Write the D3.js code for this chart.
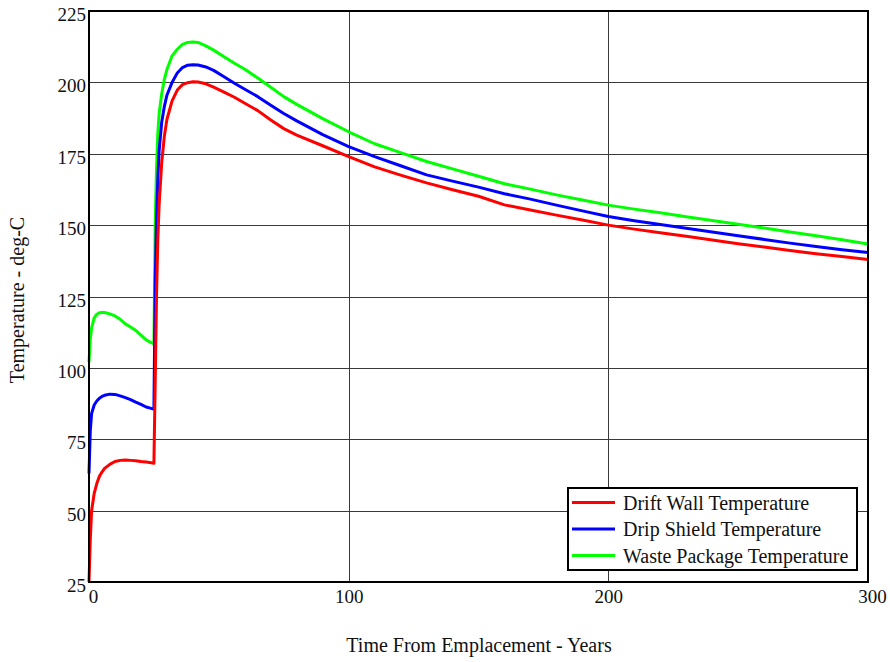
<!DOCTYPE html>
<html>
<head>
<meta charset="utf-8">
<script src="https://cdn.jsdelivr.net/npm/d3@7"></script>
<style>
  html, body { margin: 0; padding: 0; background: #fff; }
  svg { display: block; }
  text { font-family: "Liberation Serif", "Times New Roman", serif; fill: #111; }
</style>
</head>
<body>
<svg id="chart" width="890" height="662"></svg>
<script>
// Time after emplacement (years)
const years = [0, 0.5, 1, 2, 3, 4, 5, 6, 8, 10, 12, 14, 16, 18, 20, 22, 24, 25,
  25.5, 26, 26.5, 27, 28, 29, 30, 32, 34, 36, 38, 40, 42, 45, 48, 52, 56, 60, 65,
  70, 75, 80, 90, 100, 110, 120, 130, 140, 150, 160, 170, 180, 190, 200, 210,
  220, 230, 240, 250, 260, 270, 280, 290, 300];

// Drift wall temperature (deg-C)
const driftWall = [25, 40, 50, 56, 59.5, 62, 63.5, 64.8, 66.2, 67.2, 67.6, 67.7, 67.6, 67.5, 67.2, 67, 66.8, 66.6,
  95, 125, 145, 157, 172, 181, 187, 193.5, 197.3, 199.2, 199.9, 200.2, 200.1, 199.5, 198.3, 196.6, 194.8, 192.7, 190.1,
  186.8, 183.8, 181.5, 177.8, 174, 170.4, 167.5, 164.8, 162.4, 160.1, 157.1, 155.3, 153.5, 151.8, 150, 148.6,
  147.3, 146.1, 144.8, 143.5, 142.3, 141.1, 140, 139, 138];

// Drip shield temperature (deg-C)
const dripShield = [63, 78, 84, 87, 88.4, 89.4, 90, 90.4, 90.8, 90.7, 90.2, 89.6, 88.9, 88, 87.2, 86.3, 85.8, 85.6,
  130, 152, 166, 176, 186, 191.5, 195.5, 200, 203.3, 205.2, 206, 206.2, 206.1, 205.4, 204.2, 202, 199.7, 197.6, 195,
  192, 189.1, 186.5, 181.7, 177.5, 174, 170.8, 167.6, 165.4, 163.3, 161, 159.1, 157, 155, 153, 151.5,
  150.2, 148.9, 147.6, 146.3, 145, 143.7, 142.5, 141.4, 140.4];

// Waste package temperature (deg-C)
const wastePackage = [102, 110, 114, 117.5, 118.8, 119.3, 119.4, 119.4, 118.9, 118.2, 117, 115.4, 114.3, 113.1, 111.5, 109.8, 108.8, 108.4,
  150, 170, 182, 189, 196, 201, 204.5, 209.3, 211.6, 213.3, 214, 214.1, 214, 212.8, 211.3, 209, 206.7, 204.6, 201.5,
  198.3, 195, 192.3, 187.3, 182.7, 178.5, 175.4, 172.3, 169.7, 167.1, 164.5, 162.6, 160.6, 158.8, 157, 155.6,
  154.3, 152.9, 151.6, 150.3, 149, 147.6, 146.3, 144.9, 143.4];

const seriesNames = ["Drift Wall Temperature", "Drip Shield Temperature", "Waste Package Temperature"];
const seriesColors = ["#ff0000", "#0000ff", "#00ff00"];
const xTicks = [0, 100, 200, 300];
const yTicks = [25, 50, 75, 100, 125, 150, 175, 200, 225];

const svg = d3.select("#chart");
const plot = { left: 89, right: 868, top: 11, bottom: 582 };

const x = d3.scaleLinear().domain([0, 300]).range([plot.left, plot.right]);
const y = d3.scaleLinear().domain([25, 225]).range([plot.bottom, plot.top]);

// grid
const grid = svg.append("g").attr("shape-rendering", "crispEdges");
grid.selectAll("line.v").data(xTicks.slice(1, -1)).join("line")
  .attr("x1", d => Math.round(x(d))).attr("x2", d => Math.round(x(d)))
  .attr("y1", plot.top).attr("y2", plot.bottom)
  .attr("stroke", "#3a3a3a").attr("stroke-width", 1);
grid.selectAll("line.h").data(yTicks.slice(1, -1)).join("line")
  .attr("y1", d => Math.round(y(d))).attr("y2", d => Math.round(y(d)))
  .attr("x1", plot.left).attr("x2", plot.right)
  .attr("stroke", "#3a3a3a").attr("stroke-width", 1);

// traces
const seriesData = [driftWall, dripShield, wastePackage];
const line = d3.line().x((d, i) => x(years[i])).y(d => y(d));
const order = [2, 1, 0];
svg.append("g").selectAll("path").data(order).join("path")
  .attr("d", k => line(seriesData[k]))
  .attr("fill", "none")
  .attr("stroke", k => seriesColors[k])
  .attr("stroke-width", 3)
  .attr("stroke-linejoin", "round");

// frame
svg.append("rect")
  .attr("x", plot.left).attr("y", plot.top)
  .attr("width", plot.right - plot.left).attr("height", plot.bottom - plot.top)
  .attr("fill", "none").attr("stroke", "#000").attr("stroke-width", 2);

// tick labels (no tick marks)
const yAxis = d3.axisLeft(y).tickValues(yTicks).tickSize(0).tickPadding(3).tickFormat(d3.format("d"));
const gy = svg.append("g").attr("transform", `translate(${plot.left},0)`).call(yAxis);
gy.select(".domain").remove();
gy.selectAll("text").attr("font-size", 19).attr("dy", "0.5em")
  .style("font-family", '"Liberation Serif", "Times New Roman", serif').attr("fill", "#111");

const xAxis = d3.axisBottom(x).tickValues(xTicks).tickSize(0).tickPadding(8).tickFormat(d3.format("d"));
const gx = svg.append("g").attr("transform", `translate(0,${plot.bottom})`).call(xAxis);
gx.select(".domain").remove();
gx.selectAll("text").attr("font-size", 19)
  .attr("dx", (d, i) => (i === 0 || i === xTicks.length - 1) ? 4 : 0)
  .style("font-family", '"Liberation Serif", "Times New Roman", serif').attr("fill", "#111");

// axis titles
svg.append("text").attr("x", 479).attr("y", 652).attr("text-anchor", "middle")
  .attr("font-size", 20).text("Time From Emplacement - Years");
svg.append("text").attr("transform", "translate(24,300) rotate(-90)").attr("text-anchor", "middle")
  .attr("font-size", 20).text("Temperature - deg-C");

// legend
const lg = svg.append("g");
lg.append("rect").attr("x", 568).attr("y", 488).attr("width", 289).attr("height", 82)
  .attr("fill", "#fff").attr("stroke", "#000").attr("stroke-width", 2);
seriesNames.forEach((name, i) => {
  const cy = 502.5 + i * 26.5;
  lg.append("line").attr("x1", 572).attr("x2", 615).attr("y1", cy).attr("y2", cy)
    .attr("stroke", seriesColors[i]).attr("stroke-width", 3);
  lg.append("text").attr("x", 623).attr("y", cy).attr("dy", "0.35em")
    .attr("font-size", 20).text(name);
});
</script>
</body>
</html>
